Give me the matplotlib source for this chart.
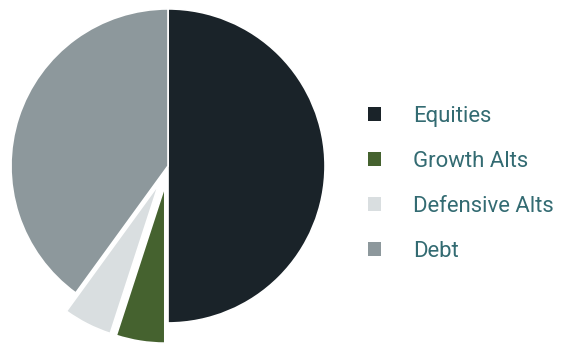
import matplotlib.pyplot as plt
from matplotlib.patches import Patch

labels = ["Equities", "Growth Alts", "Defensive Alts", "Debt"]
shares = [50, 5, 5, 40]
colors = ["#1a2329", "#45622f", "#d9dee0", "#8d989c"]
explode = [0, 0.13, 0.13, 0]

plt.rcParams['font.family'] = ['Roboto', 'DejaVu Sans']

fig = plt.figure(figsize=(5.62, 3.49), dpi=100)
ax = fig.add_axes([-0.0363, -0.0155, 0.6705, 1.080])
ax.pie(shares, colors=colors, explode=explode, startangle=90, counterclock=False,
       radius=1, wedgeprops=dict(edgecolor="white", linewidth=1.2))
ax.set_xlim(-1.2, 1.2)
ax.set_ylim(-1.2, 1.2)
ax.set_aspect('equal')
ax.axis('off')

fs = 15.9
handles = [Patch(facecolor=c, edgecolor='none') for c in colors]
leg = fig.legend(handles, labels, loc='center left', bbox_to_anchor=(368 / 562, 1 - 184 / 349),
                 frameon=False, prop=dict(size=fs, weight='normal'),
                 handlelength=0.59, handleheight=0.59, handletextpad=1.45,
                 labelspacing=1.09, borderpad=0, borderaxespad=0)
for t in leg.get_texts():
    t.set_color("#336b72")

fig.savefig("out.png", dpi=100)
